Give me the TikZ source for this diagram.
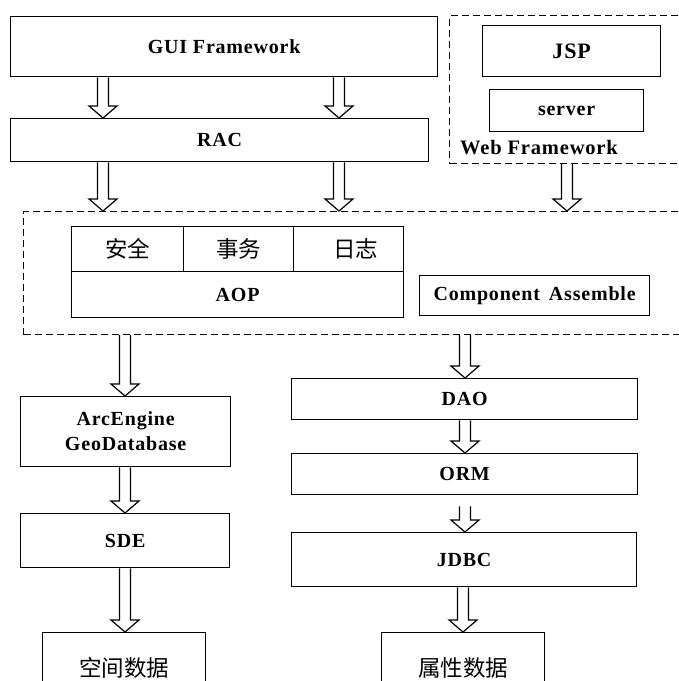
\documentclass[tikz,border=0pt]{standalone}
\usepackage{fontspec}
\setmainfont{Liberation Serif}[LetterSpace=4]
\newfontfamily\cjk{Noto Sans CJK SC}
\usetikzlibrary{calc}

% hollow block arrow: x position, start point, end point
\newcommand\blockarrow[3]{%
  \coordinate (ba-s) at (#1,0 |- #2);
  \coordinate (ba-e) at (#1,0 |- #3);
  \draw[hollow] ($(ba-s)+(-5.5,0)$) -- ($(ba-e)+(-5.5,-12)$) -- ($(ba-e)+(-14,-12)$)
    -- (ba-e) -- ($(ba-e)+(14,-12)$) -- ($(ba-e)+(5.5,-12)$) -- ($(ba-s)+(5.5,0)$);}

\begin{document}
\begin{tikzpicture}[x=1pt,y=-1pt,
  box/.style={draw, line width=1.3pt, inner sep=0pt, anchor=north west,
    font=\fontsize{20}{24}\selectfont\bfseries},
  frame/.style={draw, dashed, dash pattern=on 7pt off 4pt, line width=1pt,
    inner sep=0pt, anchor=north west},
  cjkbox/.style={box, font=\fontsize{22.5}{26}\selectfont\cjk},
  hollow/.style={draw, fill=white, line width=1.2pt, line join=miter}]
\useasboundingbox (0,0) rectangle (679,681);

% top layer
\node[box, minimum width=427pt, minimum height=60pt] (gui) at (10,16) {GUI Framework};
\node[box, minimum width=418pt, minimum height=43pt] (rac) at (10,118) {RAC};

% web framework group
\node[frame, minimum width=260pt, minimum height=148pt] (web) at (449,15) {};
\node[box, minimum width=178pt, minimum height=51pt,
  font=\fontsize{22}{26}\selectfont\bfseries] (jsp) at (482,25) {JSP};
\node[box, minimum width=154pt, minimum height=42pt] (server) at (489,89) {server};
\node[anchor=west, inner sep=0pt, font=\fontsize{20.5}{24}\selectfont\bfseries]
  (webl) at (460,148) {Web Framework};

% middle container
\node[frame, minimum width=700pt, minimum height=123pt] (mid) at (23,211) {};
\node[cjkbox, minimum width=112pt, minimum height=45pt] (sec) at (71,226) {安全};
\node[cjkbox, minimum width=110pt, minimum height=45pt] (trx) at (183,226) {事务};
\node[cjkbox, minimum width=110pt, minimum height=45pt] (log) at (293,226) {\hspace{14pt}日志};
\node[box, minimum width=332pt, minimum height=46pt] (aop) at (71,271) {AOP};
\node[box, minimum width=230pt, minimum height=40pt] (comp) at (419,275)
  {Component\hspace{9pt}Assemble};

% spatial data branch
\node[box, minimum width=210pt, minimum height=70pt, align=center,
  font=\fontsize{20}{25}\selectfont\bfseries] (arc) at (20,396) {ArcEngine\\GeoDatabase};
\node[box, minimum width=209pt, minimum height=54pt] (sde) at (20,513) {SDE};
\node[cjkbox, minimum width=163pt, minimum height=70pt] (kong) at (42,632) {空间数据};

% attribute data branch
\node[box, minimum width=346pt, minimum height=41pt] (dao) at (291,378) {DAO};
\node[box, minimum width=346pt, minimum height=41pt] (orm) at (291,453) {ORM};
\node[box, minimum width=345pt, minimum height=54pt] (jdbc) at (291,532) {JDBC};
\node[cjkbox, minimum width=163pt, minimum height=70pt] (attr) at (381,632) {属性数据};

\coordinate (ormgap) at ($(orm.south)+(0,11)$);

% connectors
\blockarrow{103}{gui.south}{rac.north}
\blockarrow{339}{gui.south}{rac.north}
\blockarrow{103}{rac.south}{mid.north}
\blockarrow{339}{rac.south}{mid.north}
\blockarrow{567}{web.south}{mid.north}
\blockarrow{125}{mid.south}{arc.north}
\blockarrow{465}{mid.south}{dao.north}
\blockarrow{125}{arc.south}{sde.north}
\blockarrow{465}{dao.south}{orm.north}
\blockarrow{465}{ormgap}{jdbc.north}
\blockarrow{125}{sde.south}{kong.north}
\blockarrow{463}{jdbc.south}{attr.north}
\end{tikzpicture}
\end{document}
